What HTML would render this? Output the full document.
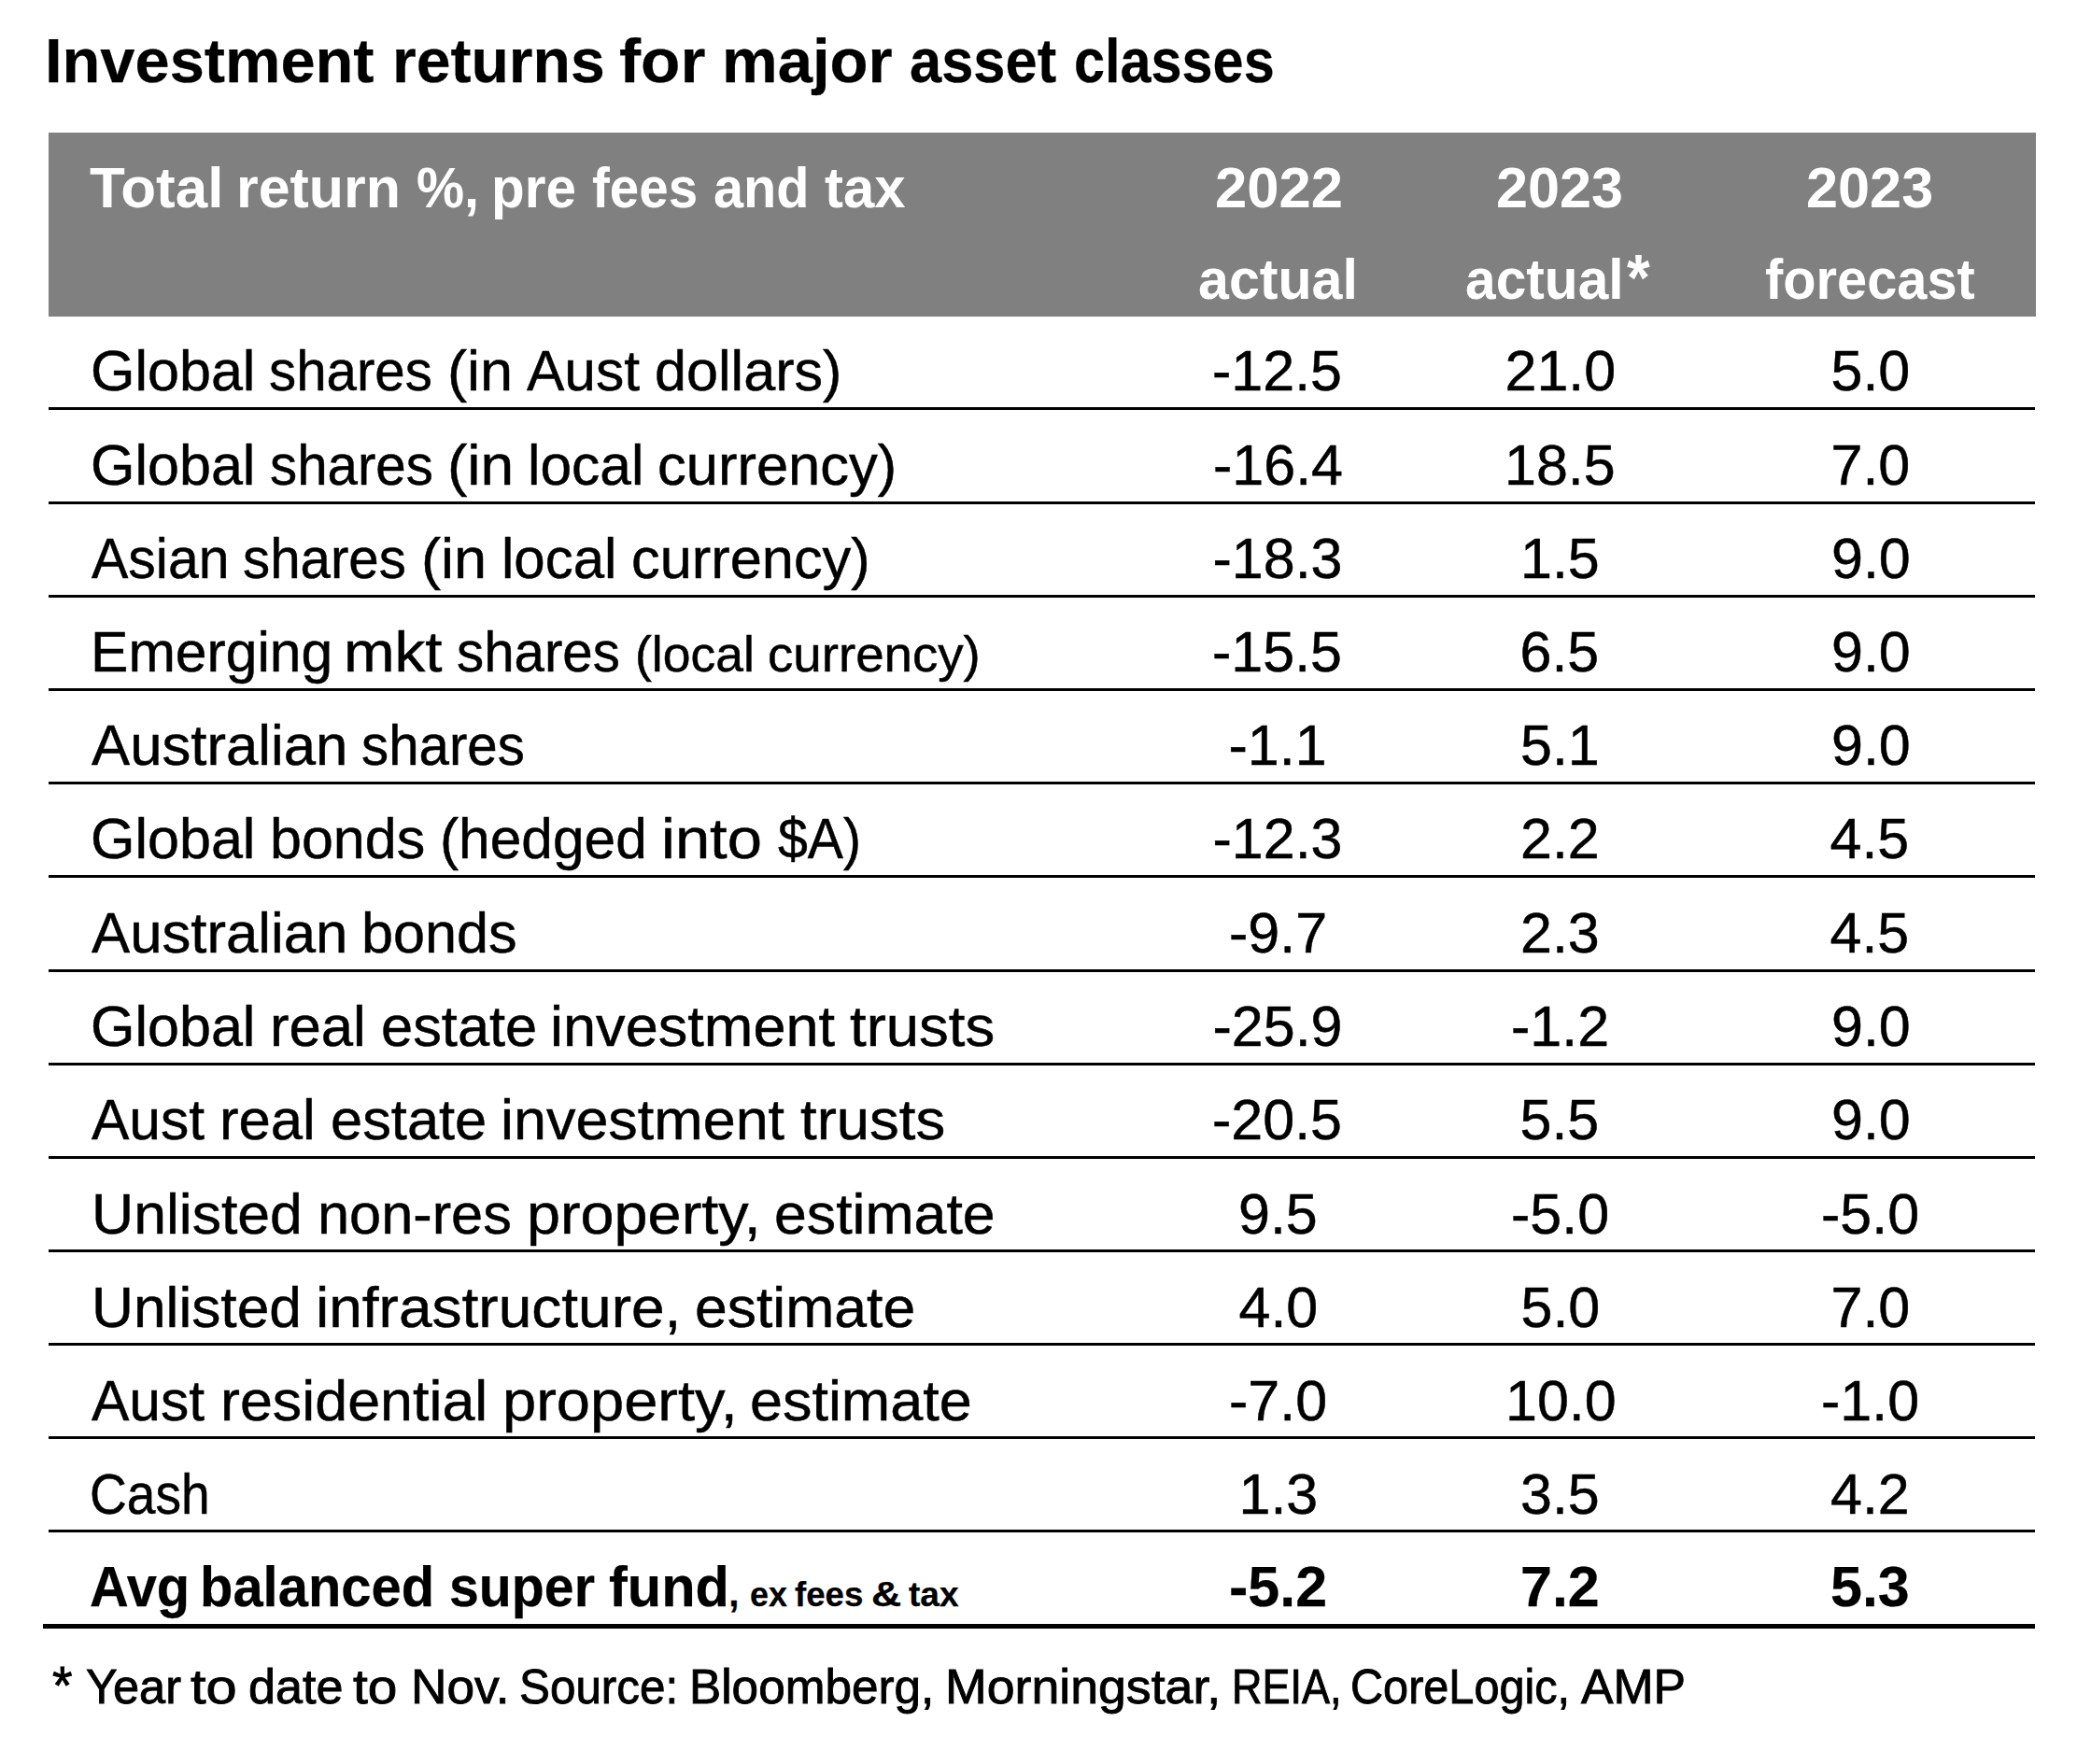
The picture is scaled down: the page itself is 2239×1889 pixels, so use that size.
<!DOCTYPE html>
<html lang="en">
<head>
<meta charset="utf-8">
<title>Investment returns for major asset classes</title>
<style>
html,body{margin:0;padding:0;background:#fff}
body{width:2239px;height:1889px;position:relative;overflow:hidden;font-family:"Liberation Sans", sans-serif;font-size:61px;color:#000}
.t{position:absolute;white-space:nowrap;line-height:0;transform-origin:0 0;margin:0;font-weight:normal;-webkit-text-stroke:0.5px currentColor}
.b{-webkit-text-stroke-width:0.25px}
.w{-webkit-text-stroke-width:0}
.note .t{-webkit-text-stroke-width:0.9px}
h1{margin:0;font:inherit}
.b{font-weight:bold}
.w{color:#fff}
.band{position:absolute;left:52px;top:142px;width:2128px;height:197px;background:#808080}
.rule{position:absolute;left:52px;width:2127px;height:3px;background:#000}
.rule.end{left:46px;width:2133px;height:5px}

</style>
</head>
<body>
<h1>
  <span class="t b" style="left:47.84px;top:65px;font-size:67.5px;transform:scaleX(0.9895);">Investment</span>
  <span class="t b" style="left:419.88px;top:65px;font-size:67.5px;transform:scaleX(0.9792);">returns</span>
  <span class="t b" style="left:662.57px;top:65px;font-size:67.5px;transform:scaleX(1.0273);">for</span>
  <span class="t b" style="left:772.52px;top:65px;font-size:67.5px;transform:scaleX(0.9939);">major</span>
  <span class="t b" style="left:974.08px;top:65px;font-size:67.5px;transform:scaleX(0.9100);">asset</span>
  <span class="t b" style="left:1149.96px;top:65px;font-size:67.5px;transform:scaleX(0.8798);">classes</span>
</h1>
<div class="band"></div>
<div class="thead">
  <span class="t b w" style="left:95.98px;top:201px;transform:scaleX(1.0154);">Total</span>
  <span class="t b w" style="left:253.21px;top:201px;transform:scaleX(0.9982);">return</span>
  <span class="t b w" style="left:446.06px;top:201px;transform:scaleX(0.9424);">%,</span>
  <span class="t b w" style="left:526.47px;top:201px;transform:scaleX(0.9584);">pre</span>
  <span class="t b w" style="left:634.37px;top:201px;transform:scaleX(0.9269);">fees</span>
  <span class="t b w" style="left:763.81px;top:201px;transform:scaleX(0.9456);">and</span>
  <span class="t b w" style="left:883.22px;top:201px;transform:scaleX(0.9802);">tax</span>
  <span class="t b w" style="left:1300.58px;top:201px;transform:scaleX(1.0099);">2022</span>
  <span class="t b w" style="left:1283.46px;top:299px;transform:scaleX(0.9694);">actual</span>
  <span class="t b w" style="left:1602.49px;top:201px;transform:scaleX(1.0030);">2023</span>
  <span class="t b w" style="left:1568.68px;top:299px;transform:scaleX(0.9618);">actual</span>
  <span class="t b w" style="left:1741.9px;top:298px;font-size:70px;transform:scaleX(0.9074);">*</span>
  <span class="t b w" style="left:1933.69px;top:201px;transform:scaleX(1.0038);">2023</span>
  <span class="t b w" style="left:1889.75px;top:299px;transform:scaleX(0.9475);">forecast</span>
</div>
<div class="row">
  <span class="t" style="left:96.9px;top:397px;transform:scaleX(1.0006);">Global</span>
  <span class="t" style="left:288.09px;top:397px;transform:scaleX(0.9553);">shares</span>
  <span class="t" style="left:478.87px;top:397px;transform:scaleX(1.0333);">(in</span>
  <span class="t" style="left:564px;top:397px;transform:scaleX(0.9918);">Aust</span>
  <span class="t" style="left:701px;top:397px;transform:scaleX(1.0021);">dollars)</span>
  <span class="t" style="left:1298px;top:397px;">-12.5</span>
  <span class="t" style="left:1611.5px;top:397px;">21.0</span>
  <span class="t" style="left:1960.5px;top:397px;">5.0</span>
  <div class="rule" style="top:436px"></div>
</div>
<div class="row">
  <span class="t" style="left:96.9px;top:498px;transform:scaleX(1.0006);">Global</span>
  <span class="t" style="left:289.09px;top:498px;transform:scaleX(0.9553);">shares</span>
  <span class="t" style="left:478.8px;top:498px;transform:scaleX(1.0500);">(in</span>
  <span class="t" style="left:565.03px;top:498px;transform:scaleX(0.9915);">local</span>
  <span class="t" style="left:703.98px;top:498px;transform:scaleX(1.0081);">currency)</span>
  <span class="t" style="left:1299px;top:498px;">-16.4</span>
  <span class="t" style="left:1611px;top:498px;">18.5</span>
  <span class="t" style="left:1960.5px;top:498px;">7.0</span>
  <div class="rule" style="top:537px"></div>
</div>
<div class="row">
  <span class="t" style="left:98px;top:598px;transform:scaleX(0.9664);">Asian</span>
  <span class="t" style="left:260.09px;top:598px;transform:scaleX(0.9553);">shares</span>
  <span class="t" style="left:450.87px;top:598px;transform:scaleX(1.0333);">(in</span>
  <span class="t" style="left:537.07px;top:598px;transform:scaleX(0.9831);">local</span>
  <span class="t" style="left:675.98px;top:598px;transform:scaleX(1.0060);">currency)</span>
  <span class="t" style="left:1298.5px;top:598px;">-18.3</span>
  <span class="t" style="left:1628px;top:598px;">1.5</span>
  <span class="t" style="left:1961px;top:598px;">9.0</span>
  <div class="rule" style="top:637px"></div>
</div>
<div class="row">
  <span class="t" style="left:96.84px;top:698px;transform:scaleX(0.9929);">Emerging</span>
  <span class="t" style="left:367.7px;top:698px;transform:scaleX(1.0745);">mkt</span>
  <span class="t" style="left:489.09px;top:698px;transform:scaleX(0.9553);">shares</span>
  <span class="t" style="left:680.23px;top:700px;font-size:54px;transform:scaleX(0.9902);">(local</span>
  <span class="t" style="left:821.98px;top:700px;font-size:54px;transform:scaleX(1.0123);">currency)</span>
  <span class="t" style="left:1298px;top:698px;">-15.5</span>
  <span class="t" style="left:1627.5px;top:698px;">6.5</span>
  <span class="t" style="left:1961px;top:698px;">9.0</span>
  <div class="rule" style="top:737px"></div>
</div>
<div class="row">
  <span class="t" style="left:98px;top:798px;transform:scaleX(1.0112);">Australian</span>
  <span class="t" style="left:387.09px;top:798px;transform:scaleX(0.9553);">shares</span>
  <span class="t" style="left:1315.5px;top:798px;">-1.1</span>
  <span class="t" style="left:1628px;top:798px;">5.1</span>
  <span class="t" style="left:1961px;top:798px;">9.0</span>
  <div class="rule" style="top:837px"></div>
</div>
<div class="row">
  <span class="t" style="left:96.9px;top:898px;transform:scaleX(1.0006);">Global</span>
  <span class="t" style="left:289px;top:898px;">bonds</span>
  <span class="t" style="left:471.04px;top:898px;transform:scaleX(0.9907);">(hedged</span>
  <span class="t" style="left:707.61px;top:898px;transform:scaleX(1.0978);">into</span>
  <span class="t" style="left:833.06px;top:898px;transform:scaleX(0.9389);">$A)</span>
  <span class="t" style="left:1298.5px;top:898px;">-12.3</span>
  <span class="t" style="left:1628px;top:898px;">2.2</span>
  <span class="t" style="left:1959.5px;top:898px;">4.5</span>
  <div class="rule" style="top:937px"></div>
</div>
<div class="row">
  <span class="t" style="left:98px;top:999px;transform:scaleX(1.0112);">Australian</span>
  <span class="t" style="left:386.99px;top:999px;transform:scaleX(1.0031);">bonds</span>
  <span class="t" style="left:1316px;top:999px;">-9.7</span>
  <span class="t" style="left:1628px;top:999px;">2.3</span>
  <span class="t" style="left:1959.5px;top:999px;">4.5</span>
  <div class="rule" style="top:1038px"></div>
</div>
<div class="row">
  <span class="t" style="left:96.9px;top:1099px;transform:scaleX(1.0006);">Global</span>
  <span class="t" style="left:288.96px;top:1099px;transform:scaleX(1.0106);">real</span>
  <span class="t" style="left:407.99px;top:1099px;transform:scaleX(1.0062);">estate</span>
  <span class="t" style="left:588.86px;top:1099px;transform:scaleX(1.0344);">investment</span>
  <span class="t" style="left:909.96px;top:1099px;transform:scaleX(1.0411);">trusts</span>
  <span class="t" style="left:1298.5px;top:1099px;">-25.9</span>
  <span class="t" style="left:1618px;top:1099px;">-1.2</span>
  <span class="t" style="left:1961px;top:1099px;">9.0</span>
  <div class="rule" style="top:1138px"></div>
</div>
<div class="row">
  <span class="t" style="left:98px;top:1199px;transform:scaleX(0.9918);">Aust</span>
  <span class="t" style="left:234.96px;top:1199px;transform:scaleX(1.0106);">real</span>
  <span class="t" style="left:353.99px;top:1199px;transform:scaleX(1.0062);">estate</span>
  <span class="t" style="left:535.88px;top:1199px;transform:scaleX(1.0309);">investment</span>
  <span class="t" style="left:856.96px;top:1199px;transform:scaleX(1.0411);">trusts</span>
  <span class="t" style="left:1298px;top:1199px;">-20.5</span>
  <span class="t" style="left:1627.5px;top:1199px;">5.5</span>
  <span class="t" style="left:1961px;top:1199px;">9.0</span>
  <div class="rule" style="top:1238px"></div>
</div>
<div class="row">
  <span class="t" style="left:97.58px;top:1300px;transform:scaleX(1.0250);">Unlisted</span>
  <span class="t" style="left:339.98px;top:1300px;transform:scaleX(1.0050);">non-res</span>
  <span class="t" style="left:563.75px;top:1300px;transform:scaleX(1.0617);">property,</span>
  <span class="t" style="left:828.95px;top:1300px;transform:scaleX(1.0265);">estimate</span>
  <span class="t" style="left:1326px;top:1300px;">9.5</span>
  <span class="t" style="left:1618px;top:1300px;">-5.0</span>
  <span class="t" style="left:1950px;top:1300px;">-5.0</span>
  <div class="rule" style="top:1338px"></div>
</div>
<div class="row">
  <span class="t" style="left:97.6px;top:1400px;transform:scaleX(1.0203);">Unlisted</span>
  <span class="t" style="left:337.8px;top:1400px;transform:scaleX(1.0495);">infrastructure,</span>
  <span class="t" style="left:743.95px;top:1400px;transform:scaleX(1.0243);">estimate</span>
  <span class="t" style="left:1326.5px;top:1400px;">4.0</span>
  <span class="t" style="left:1628.5px;top:1400px;">5.0</span>
  <span class="t" style="left:1960.5px;top:1400px;">7.0</span>
  <div class="rule" style="top:1438px"></div>
</div>
<div class="row">
  <span class="t" style="left:98px;top:1500px;transform:scaleX(0.9918);">Aust</span>
  <span class="t" style="left:235.88px;top:1500px;transform:scaleX(1.0296);">residential</span>
  <span class="t" style="left:537.74px;top:1500px;transform:scaleX(1.0661);">property,</span>
  <span class="t" style="left:802.94px;top:1500px;transform:scaleX(1.0310);">estimate</span>
  <span class="t" style="left:1316px;top:1500px;">-7.0</span>
  <span class="t" style="left:1612px;top:1500px;">10.0</span>
  <span class="t" style="left:1950px;top:1500px;">-1.0</span>
  <div class="rule" style="top:1538px"></div>
</div>
<div class="row">
  <span class="t" style="left:96.29px;top:1600px;transform:scaleX(0.9029);">Cash</span>
  <span class="t" style="left:1326.5px;top:1600px;">1.3</span>
  <span class="t" style="left:1628px;top:1600px;">3.5</span>
  <span class="t" style="left:1960px;top:1600px;">4.2</span>
  <div class="rule" style="top:1638px"></div>
</div>
<div class="row">
  <span class="t b" style="left:95.6px;top:1699px;transform:scaleX(0.9486);">Avg</span>
  <span class="t b" style="left:214.2px;top:1699px;transform:scaleX(0.9494);">balanced</span>
  <span class="t b" style="left:481.12px;top:1699px;transform:scaleX(0.9387);">super</span>
  <span class="t b" style="left:652.02px;top:1699px;transform:scaleX(0.9764);">fund</span>
  <span class="t b" style="left:780.25px;top:1706px;font-size:40.4px;">,</span>
  <span class="t b" style="left:802.82px;top:1708px;font-size:36.7px;transform:scaleX(0.9795);">ex</span>
  <span class="t b" style="left:851px;top:1708px;font-size:36.7px;">fees</span>
  <span class="t b" style="left:932.57px;top:1708px;font-size:36.7px;transform:scaleX(1.2174);">&amp;</span>
  <span class="t b" style="left:973px;top:1708px;font-size:36.7px;transform:scaleX(1.0096);">tax</span>
  <span class="t b" style="left:1316px;top:1699px;">-5.2</span>
  <span class="t b" style="left:1628px;top:1699px;">7.2</span>
  <span class="t b" style="left:1960px;top:1699px;">5.3</span>
  <div class="rule end" style="top:1739px"></div>
</div>
<div class="note">
  <span class="t" style="left:55.53px;top:1805px;font-size:57px;transform:scaleX(0.9700);">*</span>
  <span class="t" style="left:92.02px;top:1806px;font-size:51.5px;transform:scaleX(0.9804);">Year</span>
  <span class="t" style="left:204.04px;top:1806px;font-size:51.5px;transform:scaleX(1.1575);">to</span>
  <span class="t" style="left:265.78px;top:1806px;font-size:51.5px;transform:scaleX(1.0115);">date</span>
  <span class="t" style="left:377.8px;top:1806px;font-size:51.5px;transform:scaleX(1.1025);">to</span>
  <span class="t" style="left:439.96px;top:1806px;font-size:51.5px;transform:scaleX(1.0344);">Nov.</span>
  <span class="t" style="left:556.28px;top:1806px;font-size:51.5px;transform:scaleX(0.9585);">Source:</span>
  <span class="t" style="left:738.42px;top:1806px;font-size:51.5px;transform:scaleX(0.9961);">Bloomberg,</span>
  <span class="t" style="left:1012.13px;top:1806px;font-size:51.5px;transform:scaleX(1.0418);">Morningstar,</span>
  <span class="t" style="left:1318.51px;top:1806px;font-size:51.5px;transform:scaleX(0.8730);">REIA,</span>
  <span class="t" style="left:1445.97px;top:1806px;font-size:51.5px;transform:scaleX(0.9438);">CoreLogic,</span>
  <span class="t" style="left:1692.7px;top:1806px;font-size:51.5px;transform:scaleX(1.0037);">AMP</span>
</div>
</body>
</html>
